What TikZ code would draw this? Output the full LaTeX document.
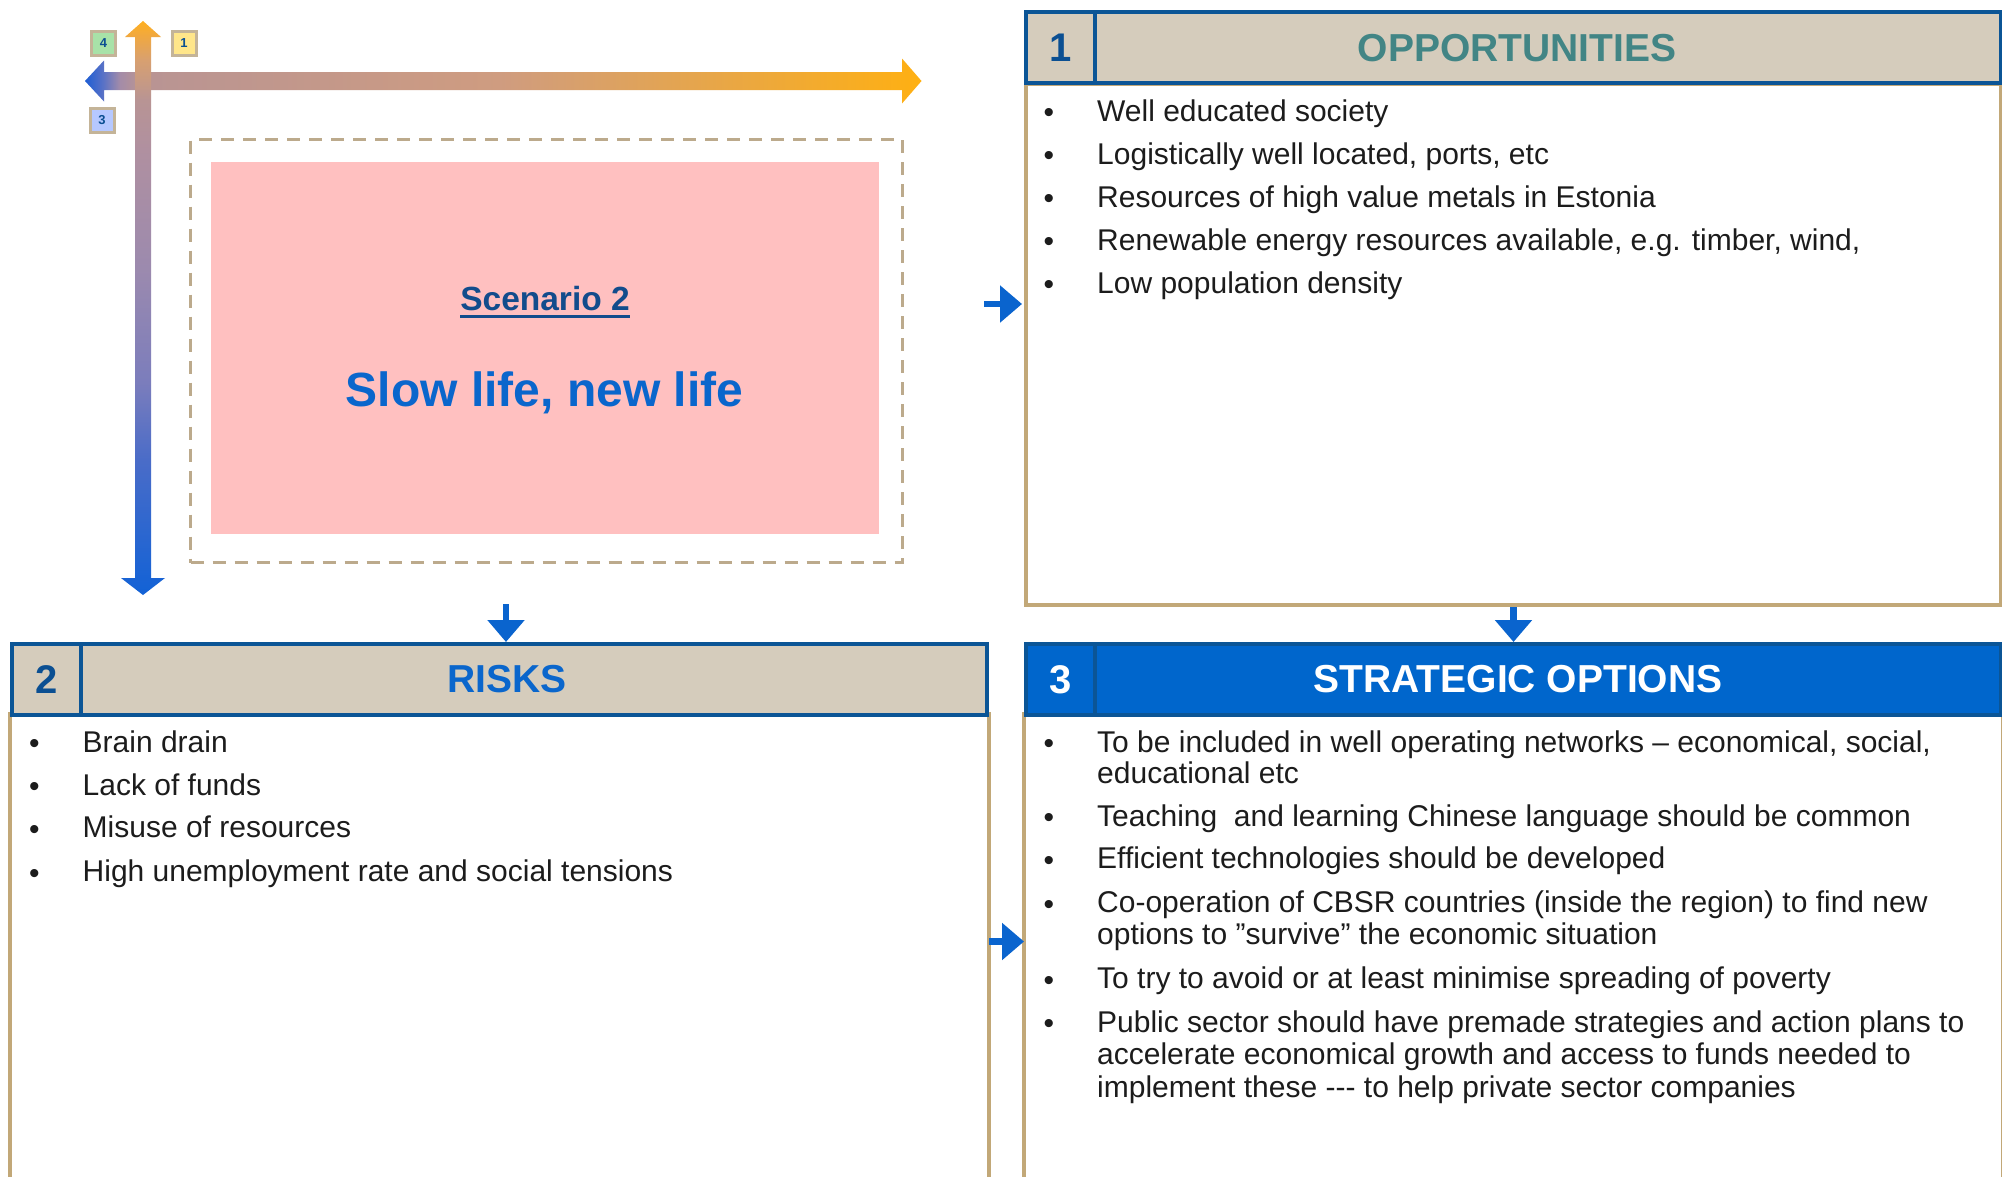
\documentclass[tikz,border=0pt]{standalone}
\usepackage{fontspec}
\setmainfont{Liberation Sans}
\usetikzlibrary{arrows.meta}

\definecolor{tanline}{HTML}{C2A878}
\definecolor{headfill}{HTML}{D5CCBC}
\definecolor{headblue}{HTML}{0B5596}
\definecolor{stratfill}{HTML}{0066CC}
\definecolor{numblue}{HTML}{0B4F92}
\definecolor{oppteal}{HTML}{428585}
\definecolor{riskblue}{HTML}{0A66CC}
\definecolor{arrowblue}{HTML}{0A64CE}
\definecolor{dashtan}{HTML}{BCAA8C}
\definecolor{pinkfill}{HTML}{FFC0C0}
\definecolor{scenblue}{HTML}{124C8C}
\definecolor{slowblue}{HTML}{0A66CC}
\definecolor{bodytext}{HTML}{1C1C1C}
\definecolor{boxtan}{HTML}{C4B498}
\definecolor{boxgreen}{HTML}{A8E2A8}
\definecolor{boxyellow}{HTML}{FFE68A}
\definecolor{boxblue}{HTML}{B6C8FF}

\definecolor{axblue}{HTML}{1E5ED4}
\definecolor{axblueb}{HTML}{5A72C6}
\definecolor{axpurp}{HTML}{A48CA8}
\definecolor{axmauve}{HTML}{B89494}
\definecolor{axmid}{HTML}{CF9C80}
\definecolor{axorange}{HTML}{FFB012}

\definecolor{vblue}{HTML}{1262D6}
\definecolor{vbluetwo}{HTML}{4A6CC8}
\definecolor{vpurpone}{HTML}{7B7DBC}
\definecolor{vpurptwo}{HTML}{9C8AAE}
\definecolor{vmauveone}{HTML}{B090A0}
\definecolor{vmauve}{HTML}{B89494}
\definecolor{vorangeone}{HTML}{D8A070}
\definecolor{vorangetwo}{HTML}{F0A840}
\definecolor{vorange}{HTML}{FFB020}

\pgfdeclarehorizontalshading{haxshade}{100bp}{color(0bp)=(axblue); color(25bp)=(axblue); color(26.1bp)=(axblueb); color(27.1bp)=(axpurp); color(28.2bp)=(axmauve); color(49.8bp)=(axmid); color(75bp)=(axorange); color(100bp)=(axorange)}
\pgfdeclareverticalshading{vaxshade}{100bp}{color(0bp)=(vblue); color(25bp)=(vblue); color(36.8bp)=(vbluetwo); color(43.5bp)=(vpurpone); color(53.5bp)=(vpurptwo); color(63.8bp)=(vmauveone); color(68.1bp)=(vmauve); color(71.6bp)=(vorangeone); color(73.7bp)=(vorangetwo); color(75bp)=(vorange); color(100bp)=(vorange)}

\newcommand{\myfs}[1]{\fontsize{#1}{#1}\selectfont}
\newcommand{\mybul}{\makebox[53.5pt][l]{\raisebox{-1.5pt}{•}}}

\begin{document}
\begin{tikzpicture}[x=1pt,y=-1pt,
  bodyline/.style={anchor=base west, inner sep=0pt, font=\myfs{30}, text=bodytext},
  headbox/.style={draw=headblue, line width=4pt, anchor=north west, inner sep=0pt, minimum height=71pt},
  numcell/.style={headbox, minimum width=69pt, font=\bfseries\myfs{40}},
  headtitle/.style={anchor=base, inner sep=0pt, font=\bfseries\myfs{39}},
  panelbox/.style={anchor=north west, inner sep=0pt, line width=4pt},
  tanside/.style={draw=tanline, line width=4pt},
  conn/.style={draw=arrowblue, line width=6.5pt, -{Triangle[width=36pt,length=22pt]}},
  smallbox/.style={draw=boxtan, line width=3pt, minimum size=24pt, inner sep=0pt, font=\bfseries\myfs{13}, text=numblue},
]
\useasboundingbox[fill=white] (0,0) rectangle (2002,1176);

% ---------- axes ----------
\shade[shading=haxshade] (85,81) -- (104,60.5) -- (104,72) -- (902,72) -- (902,58.5) -- (921.5,81)
  -- (902,103.5) -- (902,90) -- (104,90) -- (104,101.5) -- cycle;
\shade[shading=vaxshade] (143,21) -- (161,37) -- (151,37) -- (151,578) -- (165,578) -- (143,595)
  -- (121,578) -- (135,578) -- (135,37) -- (125,37) -- cycle;

\node[smallbox, fill=boxgreen] (bfour) at (103.5,43) {4};
\node[smallbox, fill=boxyellow] (bone) at (184,43.5) {1};
\node[smallbox, fill=boxblue] (bthree) at (102,120) {3};

% ---------- scenario ----------
\node[draw=dashtan, line width=3pt, dash pattern=on 13pt off 9pt, anchor=north west, inner sep=0pt,
  minimum width=712pt, minimum height=423pt] (dashbox) at (189,138) {};
\node[fill=pinkfill, anchor=north west, inner sep=0pt, minimum width=668pt, minimum height=372pt] (pinkbox) at (211,162) {};
\node[anchor=base, inner sep=0pt, font=\bfseries\myfs{33.5}, text=scenblue] (scen) at (545,310) {Scenario 2};
\draw[scenblue, line width=3pt] ([yshift=-6pt]scen.base west) -- ([yshift=-6pt]scen.base east);
\node[anchor=base, inner sep=0pt, font=\bfseries\myfs{48}, text=slowblue] (slow) at (544.5,406) {Slow life, new life};

% ---------- opportunities ----------
\node[panelbox, draw=tanline, minimum width=975pt, minimum height=521pt] (oppbody) at (1024,82) {};
\node[headbox, fill=headfill, minimum width=975pt] (opphead) at (1024,10) {};
\node[numcell, text=numblue] (oppnum) at (1024,10) {1};
\node[headtitle, text=oppteal] (opptitle) at (1517,61.5) {OPPORTUNITIES};

\node[bodyline] (oa) at (1043.5,121) {\mybul Well educated society};
\node[bodyline] (ob) at (1043.5,164) {\mybul Logistically well located, ports, etc};
\node[bodyline] (oc) at (1043.5,207) {\mybul Resources of high value metals in Estonia};
\node[bodyline] (od) at (1043.5,250) {\mybul Renewable energy resources available, e.g. timber, wind,};
\node[bodyline] (oe) at (1043.5,293) {\mybul Low population density};

% ---------- risks ----------
\node[panelbox, minimum width=975pt, minimum height=470pt] (riskbody) at (10,712) {};
\draw[tanside] (riskbody.north west) -- (riskbody.south west);
\draw[tanside] (riskbody.north east) -- (riskbody.south east);
\node[headbox, fill=headfill, minimum width=975pt] (riskhead) at (10,642) {};
\node[numcell, text=numblue] (risknum) at (10,642) {2};
\node[headtitle, text=riskblue] (risktitle) at (507,692.5) {RISKS};

\node[bodyline] (ra) at (29,752) {\mybul Brain drain};
\node[bodyline] (rb) at (29,795) {\mybul Lack of funds};
\node[bodyline] (rc) at (29,837.5) {\mybul Misuse of resources};
\node[bodyline] (rd) at (29,881.5) {\mybul High unemployment rate and social tensions};

% ---------- strategic options ----------
\node[panelbox, minimum width=975pt, minimum height=470pt] (stratbody) at (1024,712) {};
\draw[tanside] (stratbody.north west) -- (stratbody.south west);
\draw[tanside] (stratbody.north east) -- (stratbody.south east);
\node[headbox, fill=stratfill, minimum width=975pt] (strathead) at (1024,642) {};
\node[numcell, text=white] (stratnum) at (1024,642) {3};
\node[headtitle, text=white] (strattitle) at (1518,692.5) {STRATEGIC OPTIONS};

\node[bodyline] (sa) at (1043.5,752) {\mybul To be included in well operating networks – economical, social,};
\node[bodyline] (sa2) at (1097,783) {educational etc};
\node[bodyline] (sb) at (1043.5,826) {\mybul Teaching~ and learning Chinese language should be common};
\node[bodyline] (sc) at (1043.5,868.5) {\mybul Efficient technologies should be developed};
\node[bodyline] (sd) at (1043.5,912.5) {\mybul Co-operation of CBSR countries (inside the region) to find new};
\node[bodyline] (sd2) at (1097,944.5) {options to ”survive” the economic situation};
\node[bodyline] (se) at (1043.5,988.5) {\mybul To try to avoid or at least minimise spreading of poverty};
\node[bodyline] (sf) at (1043.5,1032) {\mybul Public sector should have premade strategies and action plans to};
\node[bodyline] (sf2) at (1097,1064) {accelerate economical growth and access to funds needed to};
\node[bodyline] (sf3) at (1097,1097) {implement these -\kern0pt-\kern0pt- to help private sector companies};

% ---------- connectors ----------
\coordinate (cone) at (984,304);
\coordinate (ctwo) at (506,604);
\coordinate (cthree) at (0,941.5);
\draw[conn, shorten >=2pt] (cone) -- (oppbody.west |- cone);
\draw[conn] (oppbody.south) -- (strathead.north);
\draw[conn] (ctwo) -- (ctwo |- riskhead.north);
\draw[conn] (riskbody.east |- cthree) -- (stratbody.west |- cthree);
\end{tikzpicture}
\end{document}
